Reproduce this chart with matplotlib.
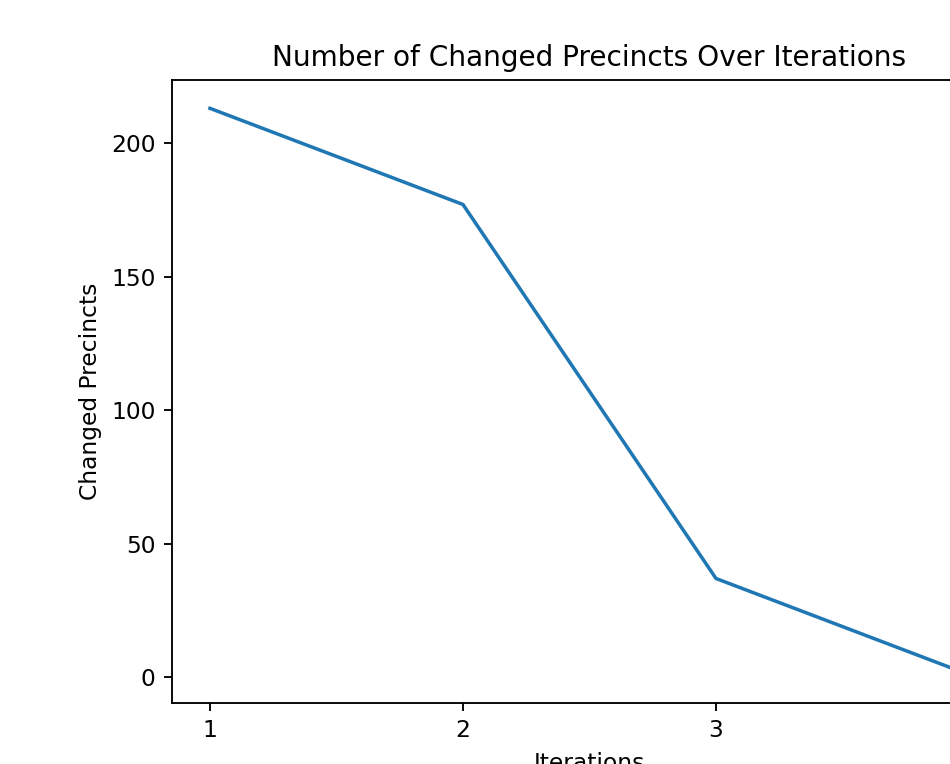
import matplotlib
matplotlib.use("Agg")
import matplotlib.pyplot as plt

iterations = [1, 2, 3, 4]
changed_precincts = [213, 177, 37, 1]

DPI = 168
fig = plt.figure(figsize=(950 / DPI, 764 / DPI), dpi=DPI)
ax = fig.add_axes([172 / 950, (764 - 703) / 764, 835 / 950, 623 / 764])
ax.plot(iterations, changed_precincts)
ax.set_xticks(iterations)
ax.set_title("Number of Changed Precincts Over Iterations")
ax.set_xlabel("Iterations")
ax.set_ylabel("Changed Precincts")
fig.savefig("out.png", dpi=DPI)
